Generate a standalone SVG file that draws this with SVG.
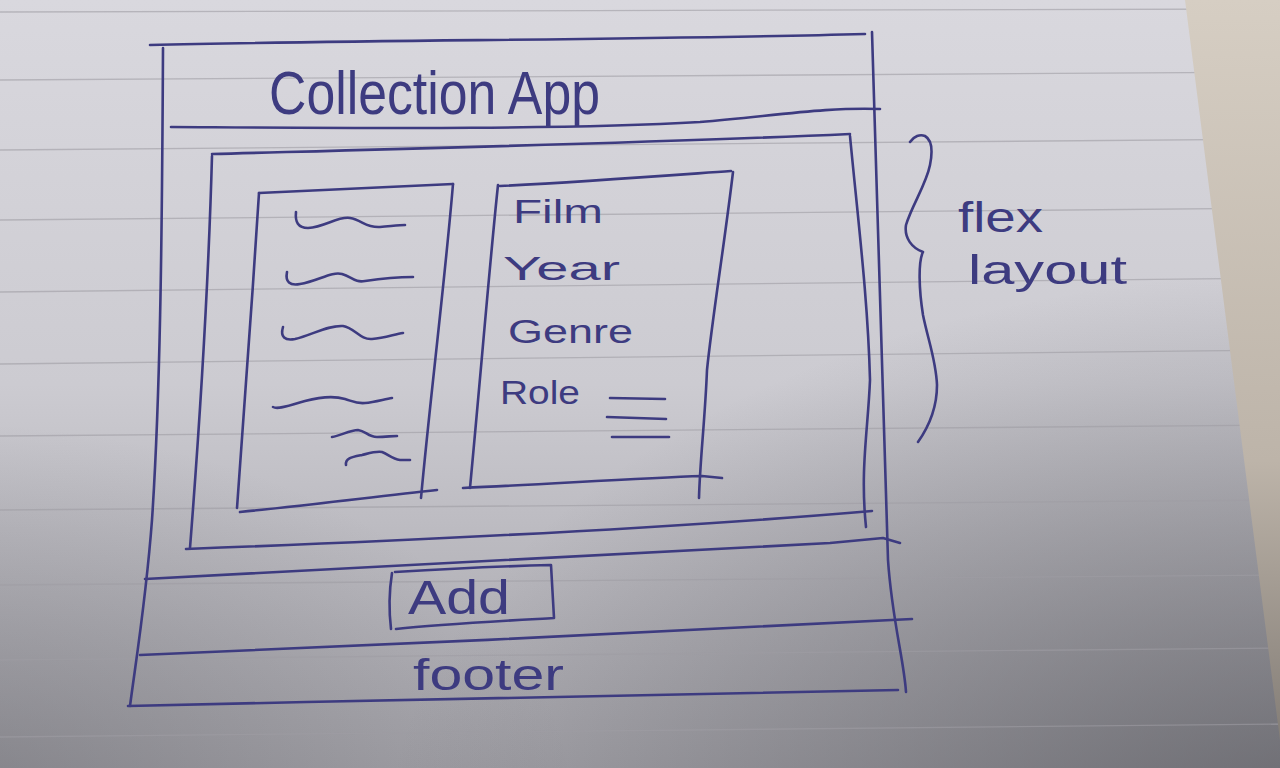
<svg xmlns="http://www.w3.org/2000/svg" width="1280" height="768" viewBox="0 0 1280 768">
  <defs>
    <linearGradient id="paperShade" x1="0" y1="0" x2="0" y2="1">
      <stop offset="0" stop-color="#d9d8de"/>
      <stop offset="0.5" stop-color="#cccbd1"/>
      <stop offset="1" stop-color="#a2a1a7"/>
    </linearGradient>
    <radialGradient id="cornerShade" cx="1.05" cy="1.1" r="0.75">
      <stop offset="0" stop-color="#505056" stop-opacity="0.7"/>
      <stop offset="1" stop-color="#505056" stop-opacity="0"/>
    </radialGradient>
    <radialGradient id="leftShade" cx="-0.05" cy="1.05" r="0.5">
      <stop offset="0" stop-color="#55555b" stop-opacity="0.4"/>
      <stop offset="1" stop-color="#55555b" stop-opacity="0"/>
    </radialGradient>
    <linearGradient id="deskShade" x1="0" y1="0" x2="0" y2="1">
      <stop offset="0" stop-color="#d6cec3"/>
      <stop offset="0.6" stop-color="#bdb4a9"/>
      <stop offset="1" stop-color="#7e7872"/>
    </linearGradient>
    <style>
      .rule { fill: none; stroke: #9e9da4; stroke-opacity: 0.6; stroke-width: 1.3; }
      .ink { fill: none; stroke: #3d3b80; stroke-width: 2.6; stroke-linecap: round; stroke-linejoin: round; }
      .hand { fill: #3d3b80; font-family: "Liberation Sans", "DejaVu Sans", sans-serif; }
    </style>
  </defs>

  <!-- notebook page with its ruling -->
  <g id="paper">
    <rect x="0" y="0" width="1280" height="768" fill="url(#paperShade)"/>
    <rect x="0" y="0" width="1280" height="768" fill="url(#leftShade)"/>
    <rect x="0" y="0" width="1280" height="768" fill="url(#cornerShade)"/>
    <path class="rule" d="M0,12 L1280,9"/>
    <path class="rule" d="M0,80 L1280,72"/>
    <path class="rule" d="M0,150 L1280,139"/>
    <path class="rule" d="M0,220 L1280,208"/>
    <path class="rule" d="M0,292 L1280,278"/>
    <path class="rule" d="M0,364 L1280,350"/>
    <path class="rule" d="M0,436 L1280,425"/>
    <path class="rule" d="M0,510 L1280,500"/>
    <path class="rule" d="M0,585 L1280,575"/>
    <path class="rule" d="M0,660 L1280,648"/>
    <path class="rule" d="M0,737 L1280,724"/>
    <!-- desk showing past the page edge -->
    <polygon points="1185,0 1280,0 1280,768 1280,740" fill="url(#deskShade)"/>
  </g>

  <!-- outer app frame -->
  <g id="app-frame">
    <path class="ink" d="M150,45 C350,40 650,40 865,34"/>
    <path class="ink" d="M872,32 C878,250 884,450 888,560 C892,620 904,660 906,692"/>
    <path class="ink" d="M163,48 C162,250 160,400 152,520 C146,600 136,660 130,706"/>
    <path class="ink" d="M128,706 C400,700 700,693 898,690"/>
  </g>

  <!-- header -->
  <g id="header">
    <path class="ink" d="M171,127 C350,128 560,130 700,122 C780,115 830,107 880,109"/>
    <text class="hand" x="269" y="114" font-size="62" textLength="331" lengthAdjust="spacingAndGlyphs">Collection App</text>
  </g>

  <!-- flex container -->
  <g id="flex-container">
    <path class="ink" d="M212,154 C400,149 650,143 850,134"/>
    <path class="ink" d="M850,136 C858,220 868,300 870,380 C868,430 860,470 866,527"/>
    <path class="ink" d="M212,156 C208,300 200,420 190,548"/>
    <path class="ink" d="M186,549 C400,541 650,530 872,511"/>
  </g>

  <!-- list column -->
  <g id="list-panel">
    <path class="ink" d="M259,193 C330,190 400,187 453,184"/>
    <path class="ink" d="M453,184 C445,280 430,400 421,498"/>
    <path class="ink" d="M240,512 C310,505 380,496 437,490"/>
    <path class="ink" d="M259,193 C252,300 244,420 237,508"/>
    <path class="ink" d="M296,212 C295,222 298,228 308,228 C325,227 338,216 350,218 C362,220 366,228 380,227 C392,226 400,225 405,225"/>
    <path class="ink" d="M287,272 C285,282 290,286 300,284 C318,281 332,271 342,274 C352,277 355,283 365,281 C385,278 400,277 413,277"/>
    <path class="ink" d="M283,327 C280,337 285,341 295,339 C312,335 328,325 343,326 C355,328 360,340 372,339 C385,338 395,334 403,333"/>
    <path class="ink" d="M273,407 C278,410 290,405 305,401 C320,397 335,396 345,399 C352,401 357,404 365,403 C375,402 385,399 392,398"/>
    <path class="ink" d="M332,437 C340,436 350,430 358,430 C366,431 368,437 377,437 C385,437 392,436 397,436"/>
    <path class="ink" d="M346,465 C345,458 352,457 362,455 C370,453 376,451 382,452 C388,454 392,459 400,460 C405,460 408,460 410,460"/>
  </g>

  <!-- detail column -->
  <g id="detail-panel">
    <path class="ink" d="M500,186 C580,182 660,176 731,171"/>
    <path class="ink" d="M733,172 C725,240 712,320 707,370 C705,420 700,460 699,498"/>
    <path class="ink" d="M498,185 C490,260 482,360 470,488"/>
    <path class="ink" d="M463,488 C550,484 640,478 702,476 L722,478"/>
    <text class="hand" x="513" y="223" font-size="34" textLength="90" lengthAdjust="spacingAndGlyphs">Film</text>
    <text class="hand" x="503" y="280" font-size="34" textLength="117" lengthAdjust="spacingAndGlyphs">Year</text>
    <text class="hand" x="508" y="343" font-size="34" textLength="125" lengthAdjust="spacingAndGlyphs">Genre</text>
    <text class="hand" x="500" y="404" font-size="34" textLength="80" lengthAdjust="spacingAndGlyphs">Role</text>
    <path class="ink" d="M610,398 L665,399"/>
    <path class="ink" d="M607,417 L666,419"/>
    <path class="ink" d="M612,437 L669,437"/>
  </g>

  <!-- action bar with the Add button -->
  <g id="action-bar">
    <path class="ink" d="M145,579 C400,566 620,552 830,543 L883,538 L900,543"/>
    <path class="ink" d="M395,572 C460,568 510,566 551,565 L554,618 C500,621 440,624 396,629"/>
    <path class="ink" d="M392,573 C389,592 389,612 391,629"/>
    <text class="hand" x="408" y="614" font-size="48" textLength="102" lengthAdjust="spacingAndGlyphs">Add</text>
  </g>

  <!-- footer -->
  <g id="footer">
    <path class="ink" d="M140,655 C400,645 650,632 912,619"/>
    <text class="hand" x="413" y="690" font-size="44" textLength="151" lengthAdjust="spacingAndGlyphs">footer</text>
  </g>

  <!-- brace tying the note to the flex container -->
  <g id="connectors">
    <path class="ink" d="M910,142 C914,136 920,134 925,136 C932,140 933,150 930,165 C926,185 912,205 906,225 C904,238 912,248 923,252 C918,262 919,290 923,315 C928,340 936,360 937,385 C937,405 930,425 918,442"/>
  </g>

  <g id="flex-note">
    <text class="hand" x="958" y="232" font-size="42" textLength="85" lengthAdjust="spacingAndGlyphs">flex</text>
    <text class="hand" x="968" y="284" font-size="40" textLength="159" lengthAdjust="spacingAndGlyphs">layout</text>
  </g>
</svg>
